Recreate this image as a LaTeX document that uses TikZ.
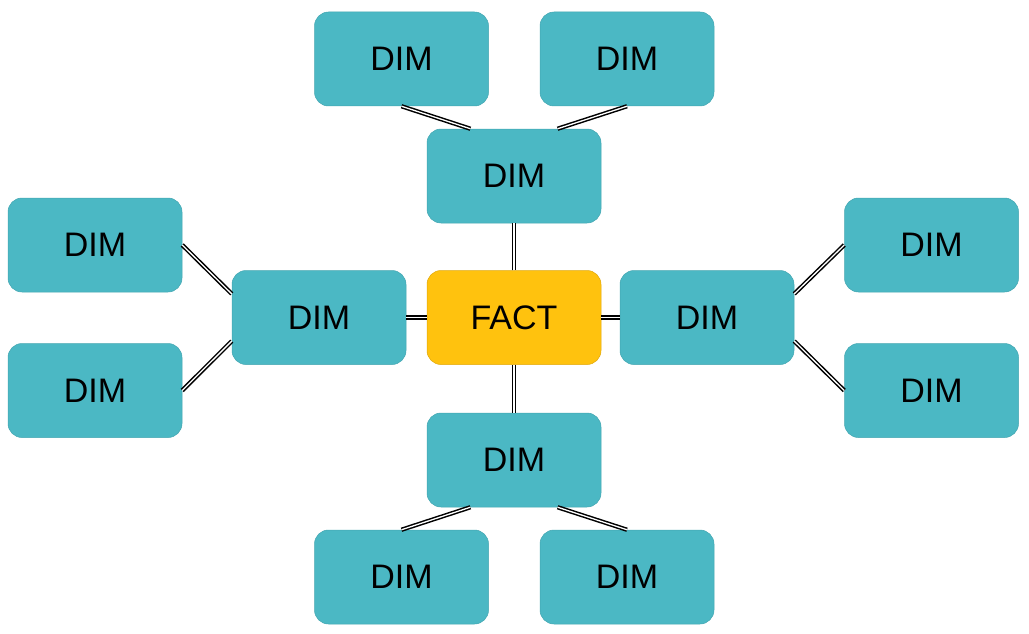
\documentclass[tikz,border=0pt]{standalone}
\usepackage{fontspec}
\setmainfont{Liberation Sans}
\usetikzlibrary{calc}
\definecolor{dimfill}{HTML}{4BB8C4}
\definecolor{dimedge}{HTML}{43A6B1}
\definecolor{factfill}{HTML}{FFC20E}
\definecolor{factedge}{HTML}{E0A80C}
\tikzset{
  box/.style={minimum width=174pt, minimum height=94pt, rounded corners=14pt,
    inner sep=0pt, font=\fontsize{34}{34}\selectfont, line width=0.5pt},
  dimbox/.style={box, fill=dimfill, draw=dimedge},
  factbox/.style={box, fill=factfill, draw=factedge},
  link/.style={draw=black, double=white, double distance=1.3pt, line width=1.5pt}
}
\begin{document}
\begin{tikzpicture}[x=1pt,y=-1pt]
\useasboundingbox (0,0) rectangle (1029,634);
% centre
\node[factbox] (fact) at (514,317.5) {FACT};
% first ring
\node[dimbox] (top) at (514,176) {DIM};
\node[dimbox] (bot) at (514,460) {DIM};
\node[dimbox] (lft) at (319,317.5) {DIM};
\node[dimbox] (rgt) at (707,317.5) {DIM};
% outer ring
\node[dimbox] (tl) at (401.5,59) {DIM};
\node[dimbox] (tr) at (627,59) {DIM};
\node[dimbox] (bl) at (401.5,577) {DIM};
\node[dimbox] (br) at (627,577) {DIM};
\node[dimbox] (lt) at (95,245) {DIM};
\node[dimbox] (lb) at (95,390.5) {DIM};
\node[dimbox] (rt) at (931.5,245) {DIM};
\node[dimbox] (rb) at (931.5,390.5) {DIM};
% links from the fact
\draw[link] (fact.north) -- (top.south);
\draw[link] (fact.south) -- (bot.north);
\draw[link] (fact.west) -- (lft.east);
\draw[link] (fact.east) -- (rgt.west);
% links to the outer ring
\draw[link] (tl.south) -- ($(top.north west)!0.25!(top.north east)$);
\draw[link] (tr.south) -- ($(top.north west)!0.75!(top.north east)$);
\draw[link] (bl.north) -- ($(bot.south west)!0.25!(bot.south east)$);
\draw[link] (br.north) -- ($(bot.south west)!0.75!(bot.south east)$);
\draw[link] (lt.east) -- ($(lft.north west)!0.25!(lft.south west)$);
\draw[link] (lb.east) -- ($(lft.north west)!0.75!(lft.south west)$);
\draw[link] (rt.west) -- ($(rgt.north east)!0.25!(rgt.south east)$);
\draw[link] (rb.west) -- ($(rgt.north east)!0.75!(rgt.south east)$);
\end{tikzpicture}
\end{document}
